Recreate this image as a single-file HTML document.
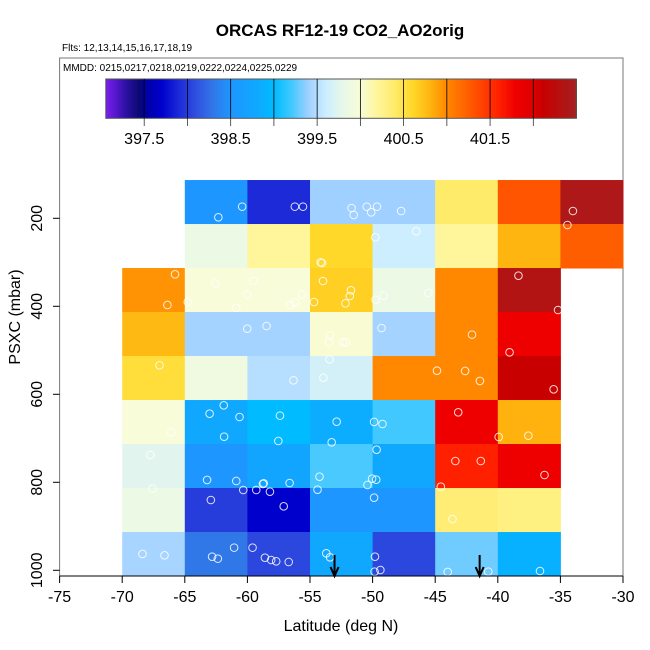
<!DOCTYPE html>
<html><head><meta charset="utf-8">
<style>
body{margin:0;background:#fff;}
svg{display:block;font-family:"Liberation Sans",sans-serif;}
</style></head>
<body>
<svg id="chart" width="650" height="650" viewBox="0 0 650 650" xmlns="http://www.w3.org/2000/svg">
<text x="340" y="36" text-anchor="middle" font-size="17" font-weight="bold">ORCAS RF12-19 CO2_AO2orig</text>
<text x="62" y="51" font-size="10">Flts: 12,13,14,15,16,17,18,19</text>
<rect x="59.6" y="58" width="563.4" height="518" fill="none" stroke="#777" stroke-width="1"/>
<text x="63" y="71" font-size="10">MMDD: 0215,0217,0218,0219,0222,0224,0225,0229</text>
<g id="cells"></g>
<g id="points"></g>
<g id="arrows"></g>
<g id="colorbar"></g>
<g id="xaxis"></g>
<g id="yaxis"></g>
<text x="341" y="631" text-anchor="middle" font-size="16">Latitude (deg N)</text>
<text transform="translate(20,317) rotate(-90)" text-anchor="middle" font-size="16">PSXC (mbar)</text>
</svg>
<script>
// ---- data ----
const latBins = [-70, -65, -60, -55, -50, -45, -40, -35];
const presBins = [113, 213, 313, 413, 513, 613, 713, 813, 913];
const cellValues = [
  [null, 398.5, 397.9, 399.4, 399.4, 400.4, 401.3, 402.4],
  [null, 399.85, 400.2, 400.6, 399.6, 400.2, 400.8, 401.25],
  [400.95, 400.0, 400.0, 400.65, 399.85, 401.0, 402.35, null],
  [400.78, 399.42, 399.42, 400.02, 399.42, 401.0, 401.8, null],
  [400.55, 399.9, 399.5, 399.65, 401.0, 401.0, 402.1, null],
  [400.0, 398.8, 399.0, 398.85, 399.2, 401.8, 400.82, null],
  [399.75, 398.5, 398.75, 399.22, 398.8, 401.6, 401.8, null],
  [399.85, 398.0, 397.7, 398.5, 398.5, 400.35, 400.3, null],
  [399.43, 398.3, 398.05, 398.8, 398.05, 399.3, 398.9, null]
];
const pointLat = [-60.42,-62.32,-56.21,-55.56,-51.68,-51.51,-50.47,-50.11,-49.65,-47.72,-34.0,-34.44,-46.51,-49.78,-54.15,-54.04,-65.78,-38.35,-62.56,-59.51,-53.96,-60.01,-55.64,-51.73,-51.82,-49.12,-45.55,-66.39,-64.76,-60.89,-56.57,-56.19,-54.68,-52.17,-49.76,-35.19,-60.01,-58.47,-49.29,-53.41,-42.06,-53.49,-52.37,-52.15,-39.06,-67.02,-53.44,-56.32,-53.93,-44.86,-42.61,-41.43,-35.54,
 -61.89,-63.02,-60.63,-57.4,-66.08,-61.86,-57.53,-52.87,-49.88,-49.21,-53.27,-43.16,-39.93,-37.56,-67.75,-49.68,-43.39,-41.36,-36.27,-63.22,-60.89,-58.76,-58.7,-56.63,-54.24,-50.04,-49.71,-50.41,-67.58,-60.33,-59.29,-58.2,-54.4,-44.55,-62.92,-49.88,-57.1,-43.62,-68.38,-66.62,-62.82,-62.36,-61.06,-59.59,-58.6,-58.1,-57.7,-56.7,-53.7,-53.4,-49.81,-49.84,-49.38,-44.0,-40.76,-36.63];
const pointPres = [173.5,197.8,173.5,173.5,176.6,192.5,173.5,186.4,173.5,183.4,183.4,215.2,229.6,243.2,300,301.6,327.3,330.4,347.8,342.5,342.5,373.5,373.5,363.7,376.6,375.8,369.7,397,390.2,403.1,397,391,390.2,393.2,384.9,408.4,450.8,444.8,449.3,466,464.4,481.9,481.1,482.6,504.6,534.1,520.5,568.2,562.2,546.3,547,569.7,588.7,
 625,644,651.6,648.5,686.4,696.3,706.1,662.2,662.9,667.5,709.1,641,697,694,738,725.8,751.6,751.6,783.4,794.7,797,803.8,802.3,801.6,787.2,791.7,794,806.1,814.4,817.5,817.5,821.3,816.7,809.9,840.2,834.9,854.6,883.4,962.9,966,969,973.5,948.5,948.5,971.3,976.6,979.6,981.1,961.4,970.5,969,1003,999.3,1003.8,1003,1001.6];
const arrowLat = [-53.04, -41.45];
const xTicks = [-75, -70, -65, -60, -55, -50, -45, -40, -35, -30];
const yTicks = [200, 400, 600, 800, 1000];
const cbTicks = [397.5, 398, 398.5, 399, 399.5, 400, 400.5, 401, 401.5, 402];
const cbLabels = [397.5, 398.5, 399.5, 400.5, 401.5];
// colour scale
const cStops = [397.06,397.3,397.45,397.5,397.7,397.9,398.1,398.3,398.5,398.8,399.0,399.2,399.4,399.6,399.8,400.0,400.2,400.4,400.6,400.8,401.0,401.3,401.6,401.8,402.0,402.1,402.5];
const cColors = ["#7a1ff0","#2a10a0","#0a0a70","#0000a0","#0000cd","#1c2ad8","#3050e0","#3078e8","#1e96ff","#10a8ff","#00bbff","#40c8ff","#a0d0ff","#cceeff","#e8f8e8","#f8fcd8","#fff59a","#ffeb6a","#ffd82a","#ffb510","#ff8800","#ff5500","#ff2000","#ee0000","#dd0000","#c80000","#a52020"];

// ---- scales ----
const X0 = 59.6, X1 = 623;
function xs(lat){ return X0 + (lat + 75) * (X1 - X0) / 45; }
function ys(p){ return 218.3 + (p - 200) * 0.44; }
function cbx(v){ return 144.2 + (v - 397.5) * 86.47; }
function hex2rgb(h){ return [parseInt(h.slice(1,3),16),parseInt(h.slice(3,5),16),parseInt(h.slice(5,7),16)]; }
function color(v){
  if (v <= cStops[0]) return cColors[0];
  for (let i = 1; i < cStops.length; i++) {
    if (v <= cStops[i]) {
      const t = (v - cStops[i-1]) / (cStops[i] - cStops[i-1]);
      const a = hex2rgb(cColors[i-1]), b = hex2rgb(cColors[i]);
      return 'rgb(' + a.map((c,k)=>Math.round(c + (b[k]-c)*t)).join(',') + ')';
    }
  }
  return cColors[cColors.length-1];
}
const NS = 'http://www.w3.org/2000/svg';
function mk(tag, attrs, parent){ const e = document.createElementNS(NS, tag); for (const k in attrs) e.setAttribute(k, attrs[k]); parent.appendChild(e); return e; }

// cells
const gc = document.getElementById('cells');
cellValues.forEach((row, r) => {
  row.forEach((v, c) => {
    if (v === null) return;
    const x0 = xs(latBins[c]), x1 = xs(latBins[c] + 5);
    const y0 = ys(presBins[r]), y1 = ys(presBins[r] + 100);
    const el = mk('rect', {x: x0, y: y0, width: x1 - x0 + 0.5, height: y1 - y0 + 0.5, fill: color(v)}, gc);
    
    
  });
});
// points
const gp = document.getElementById('points');
pointLat.forEach((lat, i) => {
  const el = mk('circle', {cx: xs(lat), cy: ys(pointPres[i]), r: 3.8, fill: 'none', stroke: '#fff', 'stroke-opacity': 0.85, 'stroke-width': 1}, gp);
  
  
});
// arrows
const ga = document.getElementById('arrows');
arrowLat.forEach(lat => {
  const x = xs(lat);
  const g = mk('g', {}, ga);
  
  
  mk('line', {x1: x, y1: 555, x2: x, y2: 575, stroke: '#000', 'stroke-width': 2}, g);
  mk('polyline', {points: (x-4)+',567 '+x+',576 '+(x+4)+',567', fill: 'none', stroke: '#000', 'stroke-width': 2}, g);
});
// colorbar
const gcb = document.getElementById('colorbar');
const cbL = 105.8, cbR = 576.3;
for (let x = cbL; x < cbR; x += 1) {
  const v = 397.5 + (x + 0.5 - 144.2) / 86.47;
  mk('rect', {x: x, y: 79, width: 1.2, height: 39.3, fill: color(v)}, gcb);
}
mk('rect', {x: cbL, y: 79, width: cbR - cbL, height: 39.3, fill: 'none', stroke: '#555', 'stroke-width': 1}, gcb);
cbTicks.forEach(v => {
  const x = cbx(v);
  mk('line', {x1: x, y1: 79, x2: x, y2: 118.3, stroke: '#000', 'stroke-width': 0.8}, gcb);
  mk('line', {x1: x, y1: 118.3, x2: x, y2: 126, stroke: '#333', 'stroke-width': 0.8}, gcb);
});
cbLabels.forEach(v => {
  const t = mk('text', {x: cbx(v), y: 144, 'text-anchor': 'middle', 'font-size': 16}, gcb);
  t.textContent = v.toFixed(1);
  
  
});
// x axis
const gx = document.getElementById('xaxis');
mk('line', {x1: X0, y1: 576, x2: X1, y2: 576, stroke: '#000', 'stroke-width': 1}, gx);
xTicks.forEach(v => {
  const x = xs(v);
  mk('line', {x1: x, y1: 576, x2: x, y2: 583, stroke: '#000', 'stroke-width': 1}, gx);
  const t = mk('text', {x: x, y: 602, 'text-anchor': 'middle', 'font-size': 16}, gx);
  t.textContent = v;
  
  
});
// y axis
const gy = document.getElementById('yaxis');
yTicks.forEach(v => {
  const y = ys(v);
  mk('line', {x1: X0, y1: y, x2: 53, y2: y, stroke: '#000', 'stroke-width': 1}, gy);
  const t = mk('text', {transform: 'translate(42,' + y + ') rotate(-90)', 'text-anchor': 'middle', 'font-size': 16}, gy);
  t.textContent = v;
  
  
});
</script>
</body></html>
